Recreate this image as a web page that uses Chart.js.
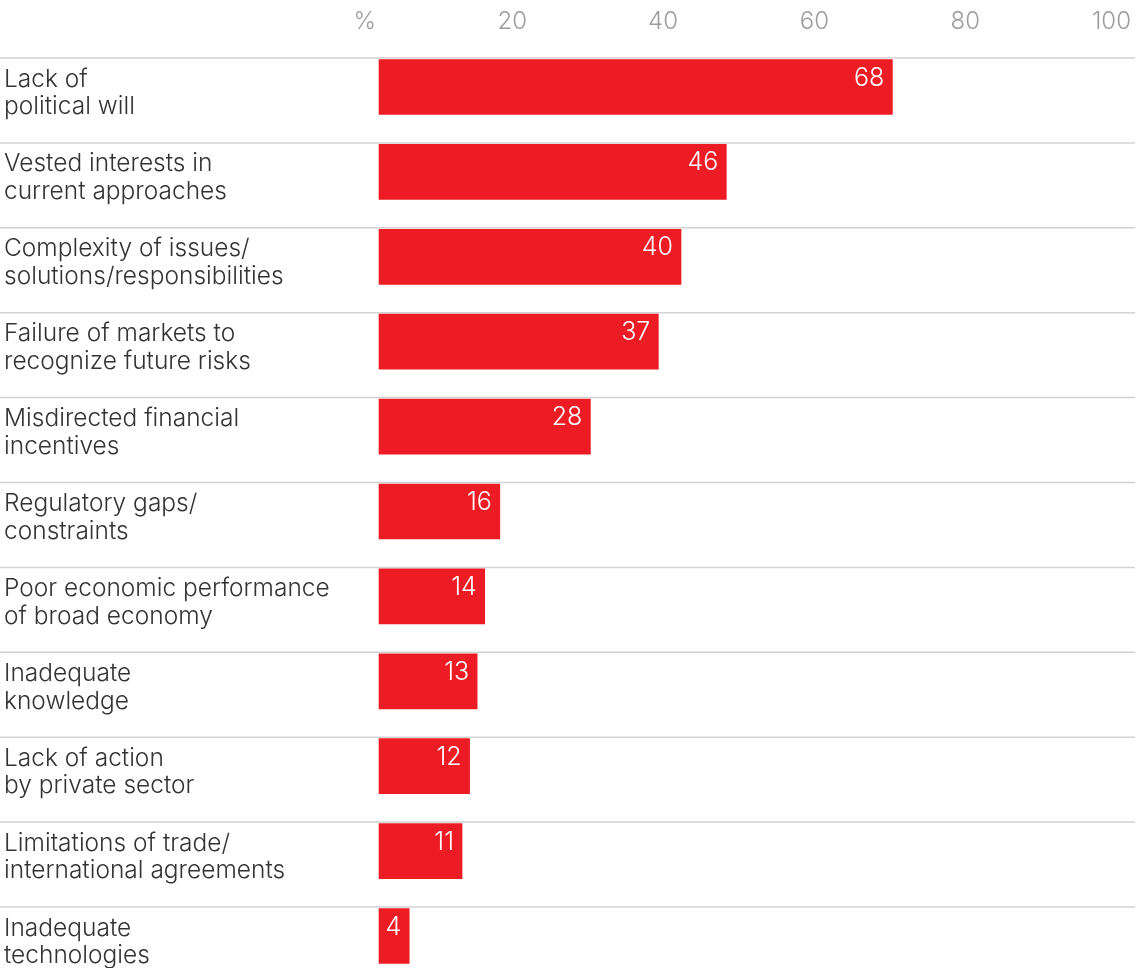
<!DOCTYPE html>
<html>
<head>
<meta charset="utf-8">
<script src="https://cdn.jsdelivr.net/npm/chart.js@4"></script>
<style>
  html, body { margin: 0; padding: 0; background: #fff; }
  #wrap { width: 1145px; height: 968px; overflow: hidden; }
</style>
</head>
<body>
<div id="wrap"><canvas id="myChart" width="1145" height="968"></canvas></div>
<script>
"use strict";
var categoryLabels = [
    ["Lack of", "political will"],
    ["Vested interests in", "current approaches"],
    ["Complexity of issues/", "solutions/responsibilities"],
    ["Failure of markets to", "recognize future risks"],
    ["Misdirected financial", "incentives"],
    ["Regulatory gaps/", "constraints"],
    ["Poor economic performance", "of broad economy"],
    ["Inadequate", "knowledge"],
    ["Lack of action", "by private sector"],
    ["Limitations of trade/", "international agreements"],
    ["Inadequate", "technologies"],
];
var shares = [68, 46, 40, 37, 28, 16, 14, 13, 12, 11, 4];
var tickValues = [0, 20, 40, 60, 80, 100];

var fontFamily = "Inter, Roboto, 'Liberation Sans', Arial, sans-serif";

// separators above each bar, across the whole width
var separators = {
    id: "separators",
    beforeDatasetsDraw: function (chart) {
        var ctx = chart.ctx;
        var meta = chart.getDatasetMeta(0);
        ctx.save();
        ctx.strokeStyle = "#d2d2d2";
        ctx.lineWidth = 1.5;
        meta.data.forEach(function (bar) {
            var y = bar.y - bar.height / 2 - 1.5;
            ctx.beginPath();
            ctx.moveTo(0, y);
            ctx.lineTo(chart.chartArea.right + 1, y);
            ctx.stroke();
        });
        ctx.restore();
    },
};

// value inside the end of each bar
var valueLabels = {
    id: "valueLabels",
    afterDatasetsDraw: function (chart) {
        var ctx = chart.ctx;
        var meta = chart.getDatasetMeta(0);
        ctx.save();
        ctx.fillStyle = "#ffffff";
        ctx.font = "300 25px " + fontFamily;
        ctx.textAlign = "right";
        ctx.textBaseline = "middle";
        meta.data.forEach(function (bar, i) {
            ctx.fillText(String(shares[i]), bar.x - 8, bar.y - 9);
        });
        ctx.restore();
    },
};

var ctx = document.getElementById("myChart").getContext("2d");
var myChart = new Chart(ctx, {
    type: "bar",
    data: {
        labels: categoryLabels,
        datasets: [
            {
                data: shares,
                backgroundColor: "#ed1c24",
                borderWidth: 0,
                barThickness: 55,
                clip: false,
            },
        ],
    },
    options: {
        indexAxis: "y",
        responsive: false,
        animation: false,
        devicePixelRatio: 1,
        layout: {
            padding: { left: 4, right: 11, top: 0, bottom: 32 },
        },
        plugins: {
            legend: { display: false },
            tooltip: { enabled: false },
        },
        scales: {
            x: {
                position: "top",
                min: 0,
                max: 100,
                afterBuildTicks: function (scale) {
                    scale.ticks = tickValues.map(function (v) {
                        return { value: v };
                    });
                },
                afterFit: function (scale) {
                    scale.height = 87;
                    scale.paddingRight = 0;
                },
                grid: { display: false, drawTicks: false },
                border: { display: false },
                ticks: {
                    align: "end",
                    labelOffset: -3,
                    padding: 51,
                    color: "#9d9d9d",
                    font: { family: fontFamily, size: 24, weight: "300" },
                    callback: function (v) {
                        return v === 0 ? "%" : v;
                    },
                },
            },
            y: {
                offset: false,
                afterFit: function (scale) {
                    scale.width = 375;
                },
                grid: { display: false, drawTicks: false },
                border: { display: false },
                ticks: {
                    crossAlign: "far",
                    labelOffset: 6,
                    color: "#333333",
                    font: { family: fontFamily, size: 24.5, weight: "300", lineHeight: 1.13 },
                },
            },
        },
    },
    plugins: [separators, valueLabels],
});
</script>
</body>
</html>
